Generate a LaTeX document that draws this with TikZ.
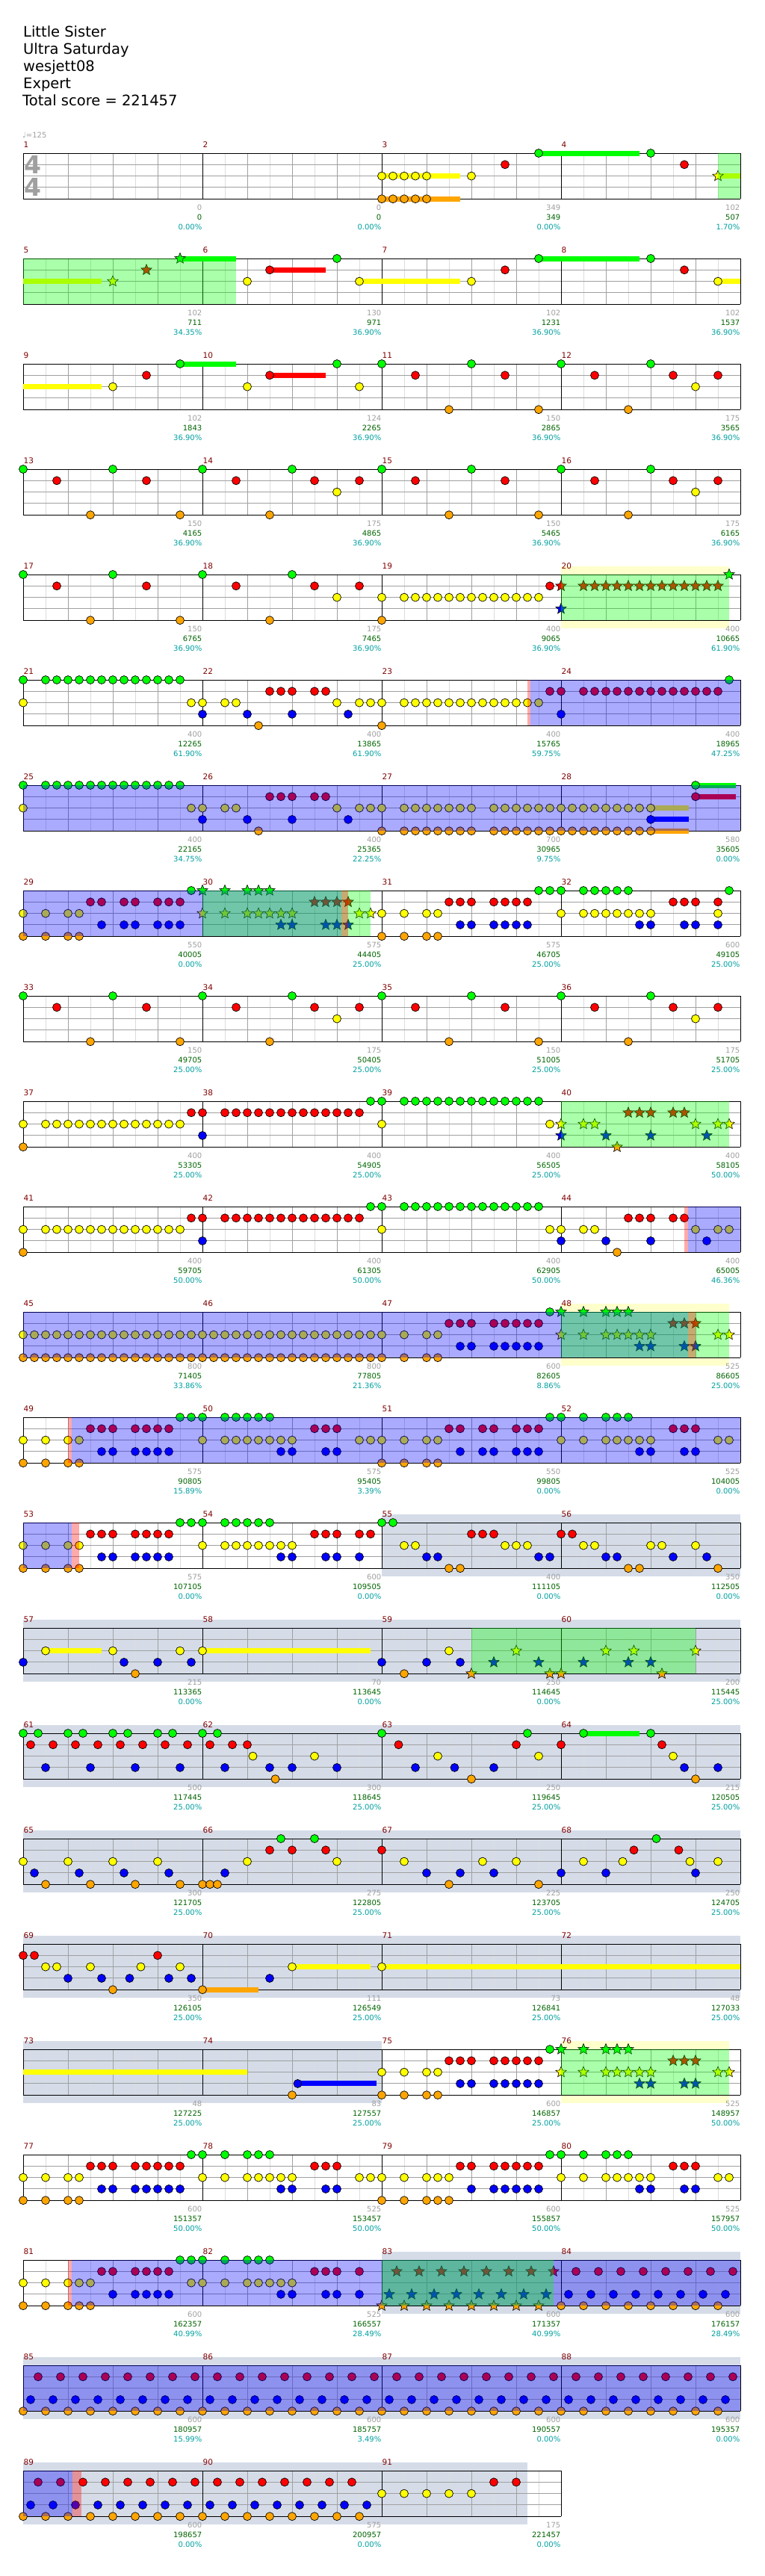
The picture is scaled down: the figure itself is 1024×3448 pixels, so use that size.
\documentclass[tikz,border=0pt]{standalone}
\usepackage{fontspec}
\setmainfont{DejaVu Sans}
\usetikzlibrary{shapes.geometric}
\definecolor{cG}{HTML}{00FF00}
\definecolor{cR}{HTML}{FF0000}
\definecolor{cY}{HTML}{FFFF00}
\definecolor{cB}{HTML}{0000FF}
\definecolor{cO}{HTML}{FFA500}
\definecolor{bgyel}{HTML}{FFFFCC}
\definecolor{bggray}{HTML}{D5DCE8}
\definecolor{hbgray}{HTML}{DCDCDC}
\definecolor{btgray}{HTML}{A0A0A0}
\definecolor{mred}{HTML}{800000}
\definecolor{ngray}{HTML}{A0A0A0}
\definecolor{ngreen}{HTML}{006400}
\definecolor{ncyan}{HTML}{00A0A0}
\tikzset{
  note/.style={circle,draw=black,line width=0.7pt,minimum size=11pt,inner sep=0pt},
  starn/.style={star,star points=5,star point ratio=2.25,draw=black,line width=0.6pt,minimum size=15pt,inner sep=0pt},
  hb/.style={draw=hbgray,line width=1pt},
  bt/.style={draw=btgray,line width=1pt},
  mlabel/.style={font=\fontsize{10.5}{12}\selectfont,text=mred,inner sep=0pt,anchor=west},
  numa/.style={font=\fontsize{10}{12}\selectfont,text=ngray,inner sep=0pt,anchor=east},
  numb/.style={font=\fontsize{10}{12}\selectfont,text=ngreen,inner sep=0pt,anchor=east},
  numc/.style={font=\fontsize{10}{12}\selectfont,text=ncyan,inner sep=0pt,anchor=east},
  head/.style={font=\fontsize{19.5}{23}\selectfont,text=black,inner sep=0pt,anchor=base west},
  tsig/.style={font=\fontsize{33}{33}\selectfont\bfseries,text=ngray,inner sep=0pt},
}
\newcommand\drawgrid[1]{%
  \pgfmathtruncatemacro\gmax{16*#1}%
  \foreach \x in {2,6,...,\gmax}{\draw[hb] (\x,0)--(\x,4);}%
  \foreach \x in {4,8,...,\gmax}{\draw[bt] (\x,0)--(\x,4);}%
  \foreach \l in {1,2,3}{\draw[bt] (0,\l)--(\gmax,\l);}%
  \foreach \x in {0,16,...,\gmax}{\draw[black,line width=1pt] (\x,0)--(\x,4);}%
  \draw[black,line width=1pt] (0,0)--(\gmax,0) (0,4)--(\gmax,4);%
}
\newcommand\ntG[1]{\foreach \pp in {#1}{\node[note,fill=cG] at (\pp,0) {};}}
\newcommand\ntR[1]{\foreach \pp in {#1}{\node[note,fill=cR] at (\pp,1) {};}}
\newcommand\ntY[1]{\foreach \pp in {#1}{\node[note,fill=cY] at (\pp,2) {};}}
\newcommand\ntB[1]{\foreach \pp in {#1}{\node[note,fill=cB] at (\pp,3) {};}}
\newcommand\ntO[1]{\foreach \pp in {#1}{\node[note,fill=cO] at (\pp,4) {};}}
\newcommand\stG[1]{\foreach \pp in {#1}{\node[starn,fill=cG] at (\pp,0) {};}}
\newcommand\stR[1]{\foreach \pp in {#1}{\node[starn,fill=cR] at (\pp,1) {};}}
\newcommand\stY[1]{\foreach \pp in {#1}{\node[starn,fill=cY] at (\pp,2) {};}}
\newcommand\stB[1]{\foreach \pp in {#1}{\node[starn,fill=cB] at (\pp,3) {};}}
\newcommand\stO[1]{\foreach \pp in {#1}{\node[starn,fill=cO] at (\pp,4) {};}}
\newcommand\suG[2]{\draw[cG,line width=7pt] (#1,0)--(#2,0);}
\newcommand\suR[2]{\draw[cR,line width=7pt] (#1,1)--(#2,1);}
\newcommand\suY[2]{\draw[cY,line width=7pt] (#1,2)--(#2,2);}
\newcommand\suB[2]{\draw[cB,line width=7pt] (#1,3)--(#2,3);}
\newcommand\suO[2]{\draw[cO,line width=7pt] (#1,4)--(#2,4);}
\newcommand\ovG[2]{\fill[cG,opacity=0.333] (#1,0) rectangle (#2,4);}
\newcommand\ovB[2]{\fill[cB,opacity=0.333] (#1,0) rectangle (#2,4);}
\newcommand\ovR[2]{\fill[cR,opacity=0.333] (#1,0) rectangle (#2,4);}
\newcommand\bgGr[2]{\fill[bggray] (#1,-0.7) rectangle (#2,4.7);}
\newcommand\bgYl[2]{\fill[bgyel] (#1,-0.7) rectangle (#2,4.7);\fill[white] (#1,0) rectangle (#2,4);}
\newcommand\patA{%
  \ntG{0,8,...,56}\ntR{3,11,19,26,30,35,43,51,58,62}\ntO{6,14,22,38,46,54}\ntY{28,60}}
\newcommand\patB{%
  \ntY{0,32,47}\ntY{2,3,...,14}\ntO{0}\ntR{15,16}\ntR{18,19,...,30}\ntB{16}\ntG{31,32}\ntG{34,35,...,46}}
\begin{document}
\begin{tikzpicture}[x=1pt,y=-1pt]
\fill[white] (0,0) rectangle (1024,3448);
\useasboundingbox (0,0) rectangle (1024,3448);
\node[head] (t1) at (31,49) {Little Sister};
\node[head] (t2) at (31,72) {Ultra Saturday};
\node[head] (t3) at (31,95) {wesjett08};
\node[head] (t4) at (31,118) {Expert};
\node[head] (t5) at (30,141) {Total score = 221457};
\node[font=\fontsize{10}{12}\selectfont,text=ngray,inner sep=0pt,anchor=west] (tempo) at (30,181) {♩=125};
% row 0
\begin{scope}[xshift=31pt,yshift=-205pt,x=15pt,y=-15.3pt]
\drawgrid{4}
\node[tsig] (ts1) at (0.88,1.0) {4};
\node[tsig] (ts2) at (0.88,2.97) {4};
\suY{32}{39}\suO{32}{39}\suG{46}{55}\suY{62}{64}
\ntY{32,33,34,35,36,40}\ntO{32,33,34,35,36}\ntR{43,59}\ntG{46,56}
\stY{62}
\ovG{62}{64}
\end{scope}
% row 1
\begin{scope}[xshift=31pt,yshift=-346pt,x=15pt,y=-15.3pt]
\drawgrid{4}
\suY{0}{7}\suG{14}{19}\suR{22}{27}\suY{30}{39}\suG{46}{55}\suY{62}{64}
\stY{8}\stR{11}\stG{14}
\ntY{20,30,40,62}\ntR{22,43,59}\ntG{28,46,56}
\ovG{0}{19}
\end{scope}
% row 2
\begin{scope}[xshift=31pt,yshift=-487pt,x=15pt,y=-15.3pt]
\drawgrid{4}
\suY{0}{7}\suG{14}{19}\suR{22}{27}
\ntY{8,20,30,60}\ntR{11,22,35,43,51,58,62}\ntG{14,28,32,40,48,56}\ntO{38,46,54}
\end{scope}
% row 3
\begin{scope}[xshift=31pt,yshift=-628pt,x=15pt,y=-15.3pt]
\drawgrid{4}
\patA
\end{scope}
% row 4
\begin{scope}[xshift=31pt,yshift=-769pt,x=15pt,y=-15.3pt]
\bgYl{48}{63}
\drawgrid{4}
\ntG{0,8,16,24}\ntR{3,11,19,26,30,47}\ntO{6,14,22,32}\ntY{28,32}\ntY{34,35,...,46}
\stR{48}\stR{50,51,...,62}\stB{48}\stG{63}
\ovG{48}{63}
\end{scope}
% row 5
\begin{scope}[xshift=31pt,yshift=-910pt,x=15pt,y=-15.3pt]
\drawgrid{4}
\ntG{0,63}\ntG{2,3,...,14}\ntY{0,15,16,18,19,28,30,31,32}\ntY{34,35,...,46}\ntB{16,20,24,29,48}\ntO{21,32}
\ntR{22,23,24,26,27,47,48}\ntR{50,51,...,62}
\ovR{45}{45.25}\ovB{45.25}{64}
\end{scope}
% row 6
\begin{scope}[xshift=31pt,yshift=-1051pt,x=15pt,y=-15.3pt]
\drawgrid{4}
\suY{56}{59.4}\suO{56}{59.4}\suB{56}{59.4}\suG{60}{63.6}\suR{60}{63.6}
\ntG{0,60}\ntG{2,3,...,14}
\ntY{0,15,16,18,19,28,30,31,32}\ntY{34,35,...,40}\ntY{42,43,...,56}
\ntB{16,20,24,29,56}
\ntO{21,32}\ntO{34,35,...,40}\ntO{42,43,...,56}
\ntR{22,23,24,26,27,60}
\ovB{0}{64}
\end{scope}
% row 7
\begin{scope}[xshift=31pt,yshift=-1192pt,x=15pt,y=-15.3pt]
\drawgrid{4}
\ntY{0,2,4,5,32,34,36,37,48,62}\ntY{50,51,...,56}
\ntO{0,2,4,5,32,34,36,37}
\ntR{6,7,9,10,12,13,14,38,39,40,42,43,44,45,58,59,60,62}
\ntB{7,9,10,12,13,14,39,40,42,43,44,45,55,56,59,60,62}
\ntG{15,46,47,48,50,51,52,53,54,63}
\stG{16,18,20,21,22}\stY{16,18,20,21,22,23,24,30,31}\stB{23,24,27,28,29}\stR{26,27,28,29}
\ovB{0}{28.4}\ovG{16}{31}\ovR{28.4}{29}
\end{scope}
% row 8
\begin{scope}[xshift=31pt,yshift=-1333pt,x=15pt,y=-15.3pt]
\drawgrid{4}
\patA
\end{scope}
% row 9
\begin{scope}[xshift=31pt,yshift=-1474pt,x=15pt,y=-15.3pt]
\drawgrid{4}
\patB
\stY{48,50,51,60,62,63}\stB{48,52,56,61}\stO{53}\stR{54,55,56,58,59}
\ovG{48}{63}
\end{scope}
% row 10
\begin{scope}[xshift=31pt,yshift=-1615pt,x=15pt,y=-15.3pt]
\drawgrid{4}
\patB
\ntY{48,50,51,60,62,63}\ntB{48,52,56,61}\ntO{53}\ntR{54,55,56,58,59}
\ovR{59}{59.3}\ovB{59.3}{64}
\end{scope}
% row 11
\begin{scope}[xshift=31pt,yshift=-1756pt,x=15pt,y=-15.3pt]
\bgYl{48}{63}
\drawgrid{4}
\ntY{0,1,...,32}\ntY{34,36,37}\ntO{0,1,...,32}\ntO{34,36,37}
\ntR{38,39,40,42,43,44,45,46}\ntB{39,40,42,43,44,45,46}\ntG{47}
\stG{48,50,52,53,54}\stY{48,50,52,53,54,55,56,62,63}\stB{55,56,59,60}\stR{58,59,60}
\ovB{0}{59.3}\ovG{48}{63}\ovR{59.3}{60}
\end{scope}
% row 12
\begin{scope}[xshift=31pt,yshift=-1897pt,x=15pt,y=-15.3pt]
\drawgrid{4}
\ntY{0,2,4,5,16,30,31,32,34,36,37,48,50,62,63}\ntY{18,19,...,24}\ntY{52,53,...,56}
\ntO{0,2,4,5,32,34,36,37}
\ntR{6,7,8,10,11,12,13,26,27,28,38,39,41,42,44,45,46,58,59,60}
\ntB{7,8,10,11,12,13,23,24,27,28,39,41,42,44,45,46,55,56,59,60}
\ntG{14,15,16,18,19,20,21,22,47,48,50,52,53,54}
\ovR{4}{4.35}\ovB{4.35}{64}
\end{scope}
% row 13
\begin{scope}[xshift=31pt,yshift=-2038pt,x=15pt,y=-15.3pt]
\bgGr{32}{64}
\drawgrid{4}
\ntY{0,2,4,5,16,34,35,43,44,45,50,51,56,57,60}\ntY{18,19,...,24}
\ntO{0,2,4,5,38,39,54,55,62}
\ntR{6,7,8,10,11,12,13,26,27,28,30,31,40,41,42,48,49}
\ntB{7,8,10,11,12,13,23,24,27,28,30,36,37,46,47,52,53,58,61}
\ntG{14,15,16,18,19,20,21,22,32,33}
\ovB{0}{4.35}\ovR{4.35}{5}
\end{scope}
% row 14
\begin{scope}[xshift=31pt,yshift=-2179pt,x=15pt,y=-15.3pt]
\bgGr{0}{64}
\drawgrid{4}
\suY{2}{7}\suY{16}{31}
\ntB{0,9,12,15,32,36,39}\ntY{2,8,14,16,38}\ntO{10,34}
\stO{40,47,48,57}\stB{42,46,50,54,56}\stY{44,52,54.5,60}
\ovG{40}{60}
\end{scope}
% row 15
\begin{scope}[xshift=31pt,yshift=-2320pt,x=15pt,y=-15.3pt]
\bgGr{0}{64}
\drawgrid{4}
\suG{50}{55}
\ntG{0,1.333,4,5.333,8,9.333,12,13.333,16,17.333,32,45,50,56}
\ntR{0.667,2.667,4.667,6.667,8.667,10.667,12.667,14.667,16.667,18.667,20,33.5,44,48,57}
\ntB{2,6,10,14,18,22,24,28,35,38.5,42,59,62}
\ntY{20.5,26,37,46,58}
\ntO{22.5,40,60}
\end{scope}
% row 16
\begin{scope}[xshift=31pt,yshift=-2461pt,x=15pt,y=-15.3pt]
\bgGr{0}{64}
\drawgrid{4}
\ntY{0,4,8,12,20,28,34,41,44,50,53.5,59.5,62}
\ntB{1,5,9,13,18,36,39,42,48,52,60}
\ntO{2,6,10,14,16,16.667,17.333,38,46}
\ntR{22,24,27,32,54.5,58.5}
\ntG{23,26,56.5}
\end{scope}
% row 17
\begin{scope}[xshift=31pt,yshift=-2602pt,x=15pt,y=-15.3pt]
\bgGr{0}{64}
\drawgrid{4}
\suO{16}{21}\suY{24}{31}\suY{32}{64}
\ntR{0,1,12}\ntY{2,3,6,10.5,14,24,32}\ntB{4,7,9.5,13,15,22}\ntO{8,16}
\end{scope}
% row 18
\begin{scope}[xshift=31pt,yshift=-2743pt,x=15pt,y=-15.3pt]
\bgGr{0}{32}\bgYl{48}{63}
\drawgrid{4}
\suY{0}{20}\suB{24.5}{31.5}
\ntO{24,32,34,36,37}\ntB{24.5,39,40,42,43,44,45,46}\ntY{32,34,36,37}\ntR{38,39,40,42,43,44,45,46}\ntG{47}
\stG{48,50,52,53,54}\stY{48,50,52,53,54,55,56,62,63}\stB{55,56,59,60}\stR{58,59,60}
\ovG{48}{63}
\end{scope}
% row 19
\begin{scope}[xshift=31pt,yshift=-2884pt,x=15pt,y=-15.3pt]
\drawgrid{4}
\ntY{0,2,4,5,16,18,30,31,32,34,36,37,38,48,50,62,63}\ntY{20,21,...,24}\ntY{52,53,...,56}
\ntO{0,2,4,5,32,34,36,37,38}
\ntR{6,7,8,26,27,28,39,40,58,59,60}\ntR{10,11,...,14}\ntR{42,43,...,46}
\ntB{7,8,23,24,27,28,40,55,56,59,60}\ntB{10,11,...,14}\ntB{42,43,...,46}
\ntG{15,16,18,20,21,22,47,48,50,52,53,54}
\end{scope}
% row 20
\begin{scope}[xshift=31pt,yshift=-3025pt,x=15pt,y=-15.3pt]
\bgGr{32}{64}
\drawgrid{4}
\ntY{0,2,4,5,6,15,16,18,20,21,22,23,24}
\ntO{0,2,4,5,6}
\ntR{7,8,10,11,12,13,26,27,28,30}
\ntB{8,10,11,12,13,23,24,27,28,30}
\ntG{14,15,16,18,20,21,22}
\stO{32,34,...,46}\stB{32.667,34.667,...,46.7}\stR{33.333,35.333,...,47.4}
\ntO{48,50,...,62}\ntB{48.667,50.667,...,62.7}\ntR{49.333,51.333,...,63.4}
\ovR{4}{4.35}\ovB{4.35}{64}\ovG{32}{47.33}
\end{scope}
% row 21
\begin{scope}[xshift=31pt,yshift=-3166pt,x=15pt,y=-15.3pt]
\bgGr{0}{64}
\drawgrid{4}
\ntO{0,2,...,62}\ntB{0.667,2.667,...,62.7}\ntR{1.333,3.333,...,63.4}
\ovB{0}{64}
\end{scope}
% row 22
\begin{scope}[xshift=31pt,yshift=-3307pt,x=15pt,y=-15.3pt]
\bgGr{0}{45}
\drawgrid{3}
\ntO{0,2,...,30}\ntB{0.667,2.667,...,30.7}\ntR{1.333,3.333,...,29.4}
\ntY{32,34,...,40}\ntR{42,44}
\ovB{0}{4.4}\ovR{4.4}{5.2}
\end{scope}
% measure labels and scores
\foreach \m/\va/\vb/\vc in {1/0/0/0.00,2/0/0/0.00,3/349/349/0.00,4/102/507/1.70,5/102/711/34.35,6/130/971/36.90,7/102/1231/36.90,8/102/1537/36.90,9/102/1843/36.90,10/124/2265/36.90,11/150/2865/36.90,12/175/3565/36.90,13/150/4165/36.90,14/175/4865/36.90,15/150/5465/36.90,16/175/6165/36.90,17/150/6765/36.90,18/175/7465/36.90,19/400/9065/36.90,20/400/10665/61.90,21/400/12265/61.90,22/400/13865/61.90,23/400/15765/59.75,24/400/18965/47.25,25/400/22165/34.75,26/400/25365/22.25,27/700/30965/9.75,28/580/35605/0.00,29/550/40005/0.00,30/575/44405/25.00,31/575/46705/25.00,32/600/49105/25.00,33/150/49705/25.00,34/175/50405/25.00,35/150/51005/25.00,36/175/51705/25.00,37/400/53305/25.00,38/400/54905/25.00,39/400/56505/25.00,40/400/58105/50.00,41/400/59705/50.00,42/400/61305/50.00,43/400/62905/50.00,44/400/65005/46.36,45/800/71405/33.86,46/800/77805/21.36,47/600/82605/8.86,48/525/86605/25.00,49/575/90805/15.89,50/575/95405/3.39,51/550/99805/0.00,52/525/104005/0.00,53/575/107105/0.00,54/600/109505/0.00,55/400/111105/0.00,56/350/112505/0.00,57/215/113365/0.00,58/70/113645/0.00,59/250/114645/0.00,60/200/115445/25.00,61/500/117445/25.00,62/300/118645/25.00,63/250/119645/25.00,64/215/120505/25.00,65/300/121705/25.00,66/275/122805/25.00,67/225/123705/25.00,68/250/124705/25.00,69/350/126105/25.00,70/111/126549/25.00,71/73/126841/25.00,72/48/127033/25.00,73/48/127225/25.00,74/83/127557/25.00,75/600/146857/25.00,76/525/148957/50.00,77/600/151357/50.00,78/525/153457/50.00,79/600/155857/50.00,80/525/157957/50.00,81/600/162357/40.99,82/525/166557/28.49,83/600/171357/40.99,84/600/176157/28.49,85/600/180957/15.99,86/600/185757/3.49,87/600/190557/0.00,88/600/195357/0.00,89/600/198657/0.00,90/575/200957/0.00,91/175/221457/0.00}{
  \pgfmathtruncatemacro\rr{floor((\m-1)/4)}
  \pgfmathtruncatemacro\kk{\m-1-4*\rr}
  \pgfmathsetmacro\xe{31+240*(\kk+1)-0.5}
  \pgfmathsetmacro\xs{31+240*\kk+0.5}
  \pgfmathsetmacro\yt{205+141*\rr}
  \node[mlabel] (m\m) at (\xs,\yt-11.5) {\m};
  \node[numa] (sa\m) at (\xe,\yt+72.7) {\va};
  \node[numb] (sb\m) at (\xe,\yt+86) {\vb};
  \node[numc] (sc\m) at (\xe,\yt+99.3) {\vc\%};
}
\end{tikzpicture}
\end{document}
